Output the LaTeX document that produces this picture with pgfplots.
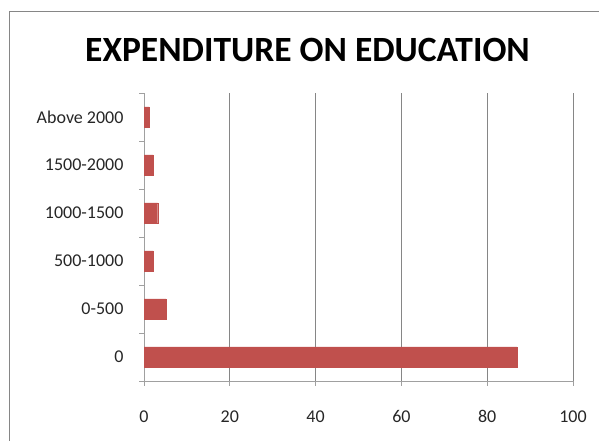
\documentclass[border=0pt]{standalone}
\usepackage{fontspec}
\setmainfont{Carlito}
\usepackage{pgfplots}
\pgfplotsset{compat=1.18}
\definecolor{barred}{RGB}{192,80,77}
\definecolor{gridgray}{RGB}{134,134,134}
\definecolor{axgray}{RGB}{160,160,160}
\begin{document}
\begin{tikzpicture}
\path[use as bounding box] (0,0) rectangle (599bp,441bp);
\draw[gridgray, line width=1bp] (9bp,-1bp) -- (9bp,429bp) -- (600bp,429bp);
\node[font=\fontsize{35.5bp}{38bp}\selectfont\bfseries] at (307.5bp,391bp) {EXPENDITURE ON EDUCATION};
\begin{axis}[
  at={(144bp,60bp)}, anchor=south west,
  scale only axis, width=429bp, height=288bp,
  xbar, bar width=20bp,
  xmin=0, xmax=100, ymin=-0.5, ymax=5.5,
  xtick={0,20,40,60,80,100},
  ytick={0,1,2,3,4,5},
  yticklabels={0,0-500,500-1000,1000-1500,1500-2000,Above 2000},
  minor ytick={-0.5,0.5,1.5,2.5,3.5,4.5,5.5},
  axis lines*=left,
  axis line style={axgray, line width=0.8bp},
  xmajorgrids, grid style={gridgray, line width=0.8bp},
  tick align=outside,
  major tick length=5bp, minor tick length=5bp,
  y tick style={draw=none},
  minor y tick style={draw=axgray, line width=0.8bp},
  x tick style={axgray, line width=0.8bp},
  tick label style={font=\fontsize{18bp}{20bp}\selectfont, text=black!85},
  /pgf/number format/assume math mode=true,
  yticklabel style={xshift=-12bp},
  xticklabel style={yshift=-21bp},
]
\addplot[fill=barred, draw=barred, line width=0.3bp] coordinates {
  (86.9,0) (5.1,1) (2.1,2) (3.2,3) (2.1,4) (1.2,5)
};
\end{axis}
\end{tikzpicture}
\end{document}
